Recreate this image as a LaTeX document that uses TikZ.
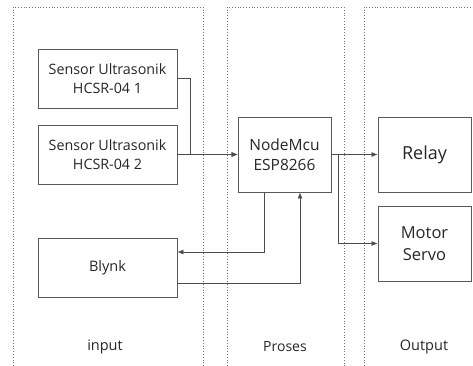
\documentclass[tikz,border=0pt]{standalone}
\usepackage{fontspec}
\setmainfont{Open Sans}
\usetikzlibrary{arrows, arrows.meta}
\usetikzlibrary{calc}

\tikzset{
  blok/.style={rectangle, draw=black!65, line width=0.8pt, inner sep=0pt, align=center, text=black!85},
  panel/.style={draw=black!55, dotted, line width=0.8pt},
  panah/.style={draw=black!70, line width=0.7pt, -{Latex[length=6pt,width=5pt]}},
}

\begin{document}
\begin{tikzpicture}[x=1pt, y=-1pt]
    \useasboundingbox (0,0) rectangle (473,366);

    % panel
    \draw[panel] (13,366) -- (13,7) -- (203,7) -- (203,366);
    \draw[panel] (227,366) -- (227,7) -- (344,7) -- (344,366);
    \draw[panel] (364,366) -- (364,7) -- (473,7);

    \node[text=black!85, font=\fontsize{14.5}{16}\selectfont] (lblinput) at (105,347) {input};
    \node[text=black!85, font=\fontsize{14}{16}\selectfont] (lblproses) at (285,347) {Proses};
    \node[text=black!85, font=\fontsize{14.5}{16}\selectfont] (lbloutput) at (424,347) {Output};

    \node[blok, minimum width=139pt, minimum height=59pt, font=\fontsize{14.3}{19}\selectfont] (sensor1) at (107.5,78.5) {Sensor Ultrasonik\\HCSR-04 1};
    \node[blok, minimum width=139pt, minimum height=59pt, font=\fontsize{14.3}{19}\selectfont] (sensor2) at (107.5,154.5) {Sensor Ultrasonik\\HCSR-04 2};
    \node[blok, minimum width=139pt, minimum height=59pt, font=\fontsize{14.5}{19}\selectfont] (blynk) at (107.5,267.5) {Blynk};
    \node[blok, minimum width=93pt, minimum height=75pt, font=\fontsize{15.5}{20}\selectfont] (nodemcu) at (284.5,154.5) {NodeMcu\\ESP8266};
    \node[blok, minimum width=93pt, minimum height=75pt, font=\fontsize{18}{21}\selectfont] (relay) at (424.5,154.5) {Relay};
    \node[blok, minimum width=93pt, minimum height=75pt, font=\fontsize{16.5}{22}\selectfont] (servo) at (424.5,243.5) {Motor\\Servo};

    \draw[panah] (sensor1.east) -| ($(sensor2.east)+(13,0)$) -- (nodemcu.west);
    \draw[panah] (sensor2.east) -- (nodemcu.west);
    \draw[panah] (nodemcu.east) -- (relay.west);
    \draw[panah] ($(nodemcu.east)+(7,0)$) |- (servo.west);
    \draw[panah] ([xshift=-20.5pt]nodemcu.south) |- ([yshift=15.5pt]blynk.east);
    \draw[panah] ([yshift=-15.5pt]blynk.east) -| ([xshift=15.5pt]nodemcu.south);
\end{tikzpicture}
\end{document}
